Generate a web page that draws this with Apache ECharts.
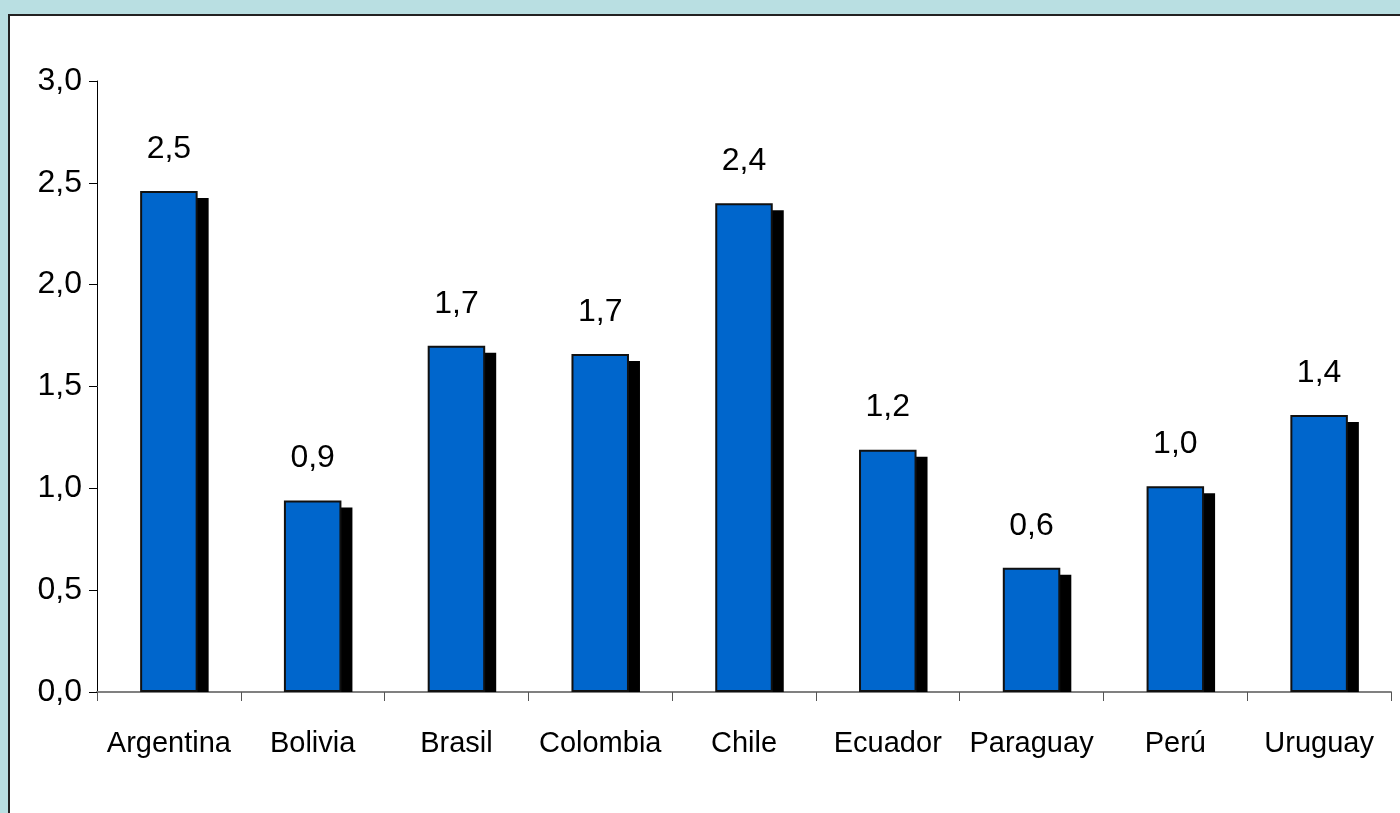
<!DOCTYPE html>
<html>
<head>
<meta charset="utf-8">
<script src="https://cdn.jsdelivr.net/npm/echarts@6/dist/echarts.min.js"></script>
<style>
  html, body { margin: 0; padding: 0; background: #b9dfe2; overflow: hidden; }
  #panel { position: absolute; left: 8px; top: 14px; width: 1500px; height: 900px; background: #fff; border-left: 2px solid #222; border-top: 2px solid #222; }
  #main { position: absolute; left: 0; top: 0; width: 1400px; height: 813px; }
</style>
</head>
<body>
<div id="panel"></div>
<div id="main"></div>
<script>
// datos
var paises = ['Argentina', 'Bolivia', 'Brasil', 'Colombia', 'Chile', 'Ecuador', 'Paraguay', 'Perú', 'Uruguay'];
var valores = [2.46, 0.94, 1.70, 1.66, 2.40, 1.19, 0.61, 1.01, 1.36];
var ejeY = { min: 0, max: 3, interval: 0.5 };

var fuente = '"Liberation Sans", Arial, sans-serif';
function coma(v) { return Number(v).toFixed(1).replace('.', ','); }

var myChart = echarts.init(document.getElementById('main'));
var option = {
    animation: false,
    backgroundColor: 'transparent',
    grid: { left: 97, top: 81, right: 9, bottom: 121 },
    xAxis: {
        type: 'category',
        data: paises,
        axisLine: { lineStyle: { color: '#808080', width: 2 } },
        axisTick: { show: true, length: 9, lineStyle: { color: '#555', width: 1 } },
        axisLabel: { color: '#000', fontSize: 29, fontFamily: fuente, margin: 37, interval: 0 },
        splitLine: { show: false }
    },
    yAxis: {
        type: 'value',
        min: ejeY.min,
        max: ejeY.max,
        interval: ejeY.interval,
        axisLine: { show: true, lineStyle: { color: '#000', width: 1 } },
        axisTick: { show: true, length: 8, lineStyle: { color: '#000' } },
        axisLabel: { color: '#000', fontSize: 32, fontFamily: fuente, margin: 15, formatter: coma },
        splitLine: { show: false }
    },
    series: [
        {
            // sombra
            type: 'custom',
            z: 1,
            silent: true,
            data: paises.map(function (p, i) { return [i, valores[i]]; }),
            renderItem: function (params, api) {
                var base = api.coord([api.value(0), 0]);
                var top = api.coord([api.value(0), api.value(1)]);
                var w = api.size([1, 0])[0] * 0.4;
                return {
                    type: 'rect',
                    shape: { x: top[0] - w / 2 + 11, y: top[1] + 7, width: w, height: base[1] - top[1] - 7 },
                    style: { fill: '#000' }
                };
            }
        },
        {
            type: 'bar',
            z: 2,
            data: valores,
            barWidth: '40%',
            itemStyle: { color: '#0066cc', borderColor: '#111', borderWidth: 2 },
            label: {
                show: true,
                position: 'top',
                distance: 26,
                color: '#000',
                fontSize: 32,
                fontFamily: fuente,
                formatter: function (p) { return coma(p.value); }
            }
        }
    ]
};
myChart.setOption(option);
</script>
</body>
</html>
